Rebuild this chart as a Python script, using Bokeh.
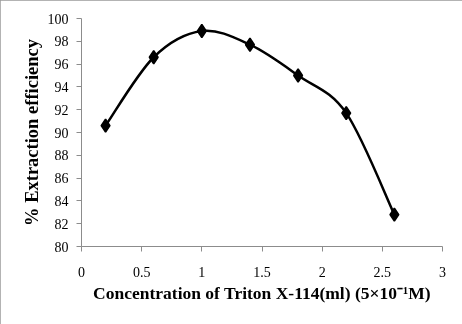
from bokeh.plotting import figure
from bokeh.models import Range1d, FixedTicker
from bokeh.embed import file_html
from bokeh.resources import INLINE

conc = [0.2, 0.6, 1.0, 1.4, 1.8, 2.2, 2.6]
efficiency = [90.6, 96.6, 98.9, 97.7, 95.0, 91.7, 82.8]
x_ticks = [0, 0.5, 1, 1.5, 2, 2.5, 3]
y_ticks = [80, 82, 84, 86, 88, 90, 92, 94, 96, 98, 100]

p = figure(width=462, height=324, output_backend="svg", toolbar_location=None,
           x_range=Range1d(0, 3), y_range=Range1d(80, 100),
           min_border_left=81, min_border_right=20, min_border_top=18,
           min_border_bottom=78)
p.styles = {"position": "fixed", "left": "0px", "top": "0px",
            "outline": "2px solid #9a9a9a", "outline-offset": "-2px"}
p.outline_line_color = None
p.xgrid.grid_line_color = None
p.ygrid.grid_line_color = None

# smooth curve (Catmull-Rom style, like a spreadsheet "smoothed line")
n = len(conc)
x0, y0, x1, y1, cx0, cy0, cx1, cy1 = [], [], [], [], [], [], [], []
for i in range(n - 1):
    pm = max(i - 1, 0)
    pn = min(i + 2, n - 1)
    x0.append(conc[i]); y0.append(efficiency[i])
    x1.append(conc[i + 1]); y1.append(efficiency[i + 1])
    cx0.append(conc[i] + (conc[i + 1] - conc[pm]) / 6)
    cy0.append(efficiency[i] + (efficiency[i + 1] - efficiency[pm]) / 6)
    cx1.append(conc[i + 1] - (conc[pn] - conc[i]) / 6)
    cy1.append(efficiency[i + 1] - (efficiency[pn] - efficiency[i]) / 6)
p.bezier(x0=x0, y0=y0, x1=x1, y1=y1, cx0=cx0, cy0=cy0, cx1=cx1, cy1=cy1,
         line_color="black", line_width=2.5)
p.scatter(conc, efficiency, marker="diamond", size=13, fill_color="black",
          line_color="black", line_width=1.6)

for ax in (p.xaxis[0], p.yaxis[0]):
    ax.axis_line_color = "#8c8c8c"
    ax.major_tick_line_color = "#8c8c8c"
    ax.major_tick_in = 0
    ax.major_tick_out = 5
    ax.minor_tick_line_color = None
    ax.major_label_text_font = "Liberation Serif"
    ax.major_label_text_font_size = "14px"
    ax.major_label_text_color = "black"
    ax.axis_label_text_font = "Liberation Serif"
    ax.axis_label_text_font_style = "bold"
    ax.axis_label_text_color = "black"

p.xaxis.axis_label_text_font_size = "17.5px"
p.yaxis.axis_label_text_font_size = "18.5px"
p.xaxis.ticker = FixedTicker(ticks=x_ticks)
p.yaxis.ticker = FixedTicker(ticks=y_ticks)
p.xaxis.major_label_overrides = {0: "0", 0.5: "0.5", 1: "1", 1.5: "1.5", 2: "2", 2.5: "2.5", 3: "3"}
p.xaxis.major_label_standoff = 15
p.yaxis.major_label_standoff = 8
p.xaxis.axis_label = "Concentration of Triton X-114(ml) (5\u00d710\u207b\u00b9M)"
p.yaxis.axis_label = "% Extraction efficiency"
p.xaxis.axis_label_standoff = 3
p.yaxis.axis_label_standoff = 3

open("out.html", "w").write(file_html(p, INLINE))
